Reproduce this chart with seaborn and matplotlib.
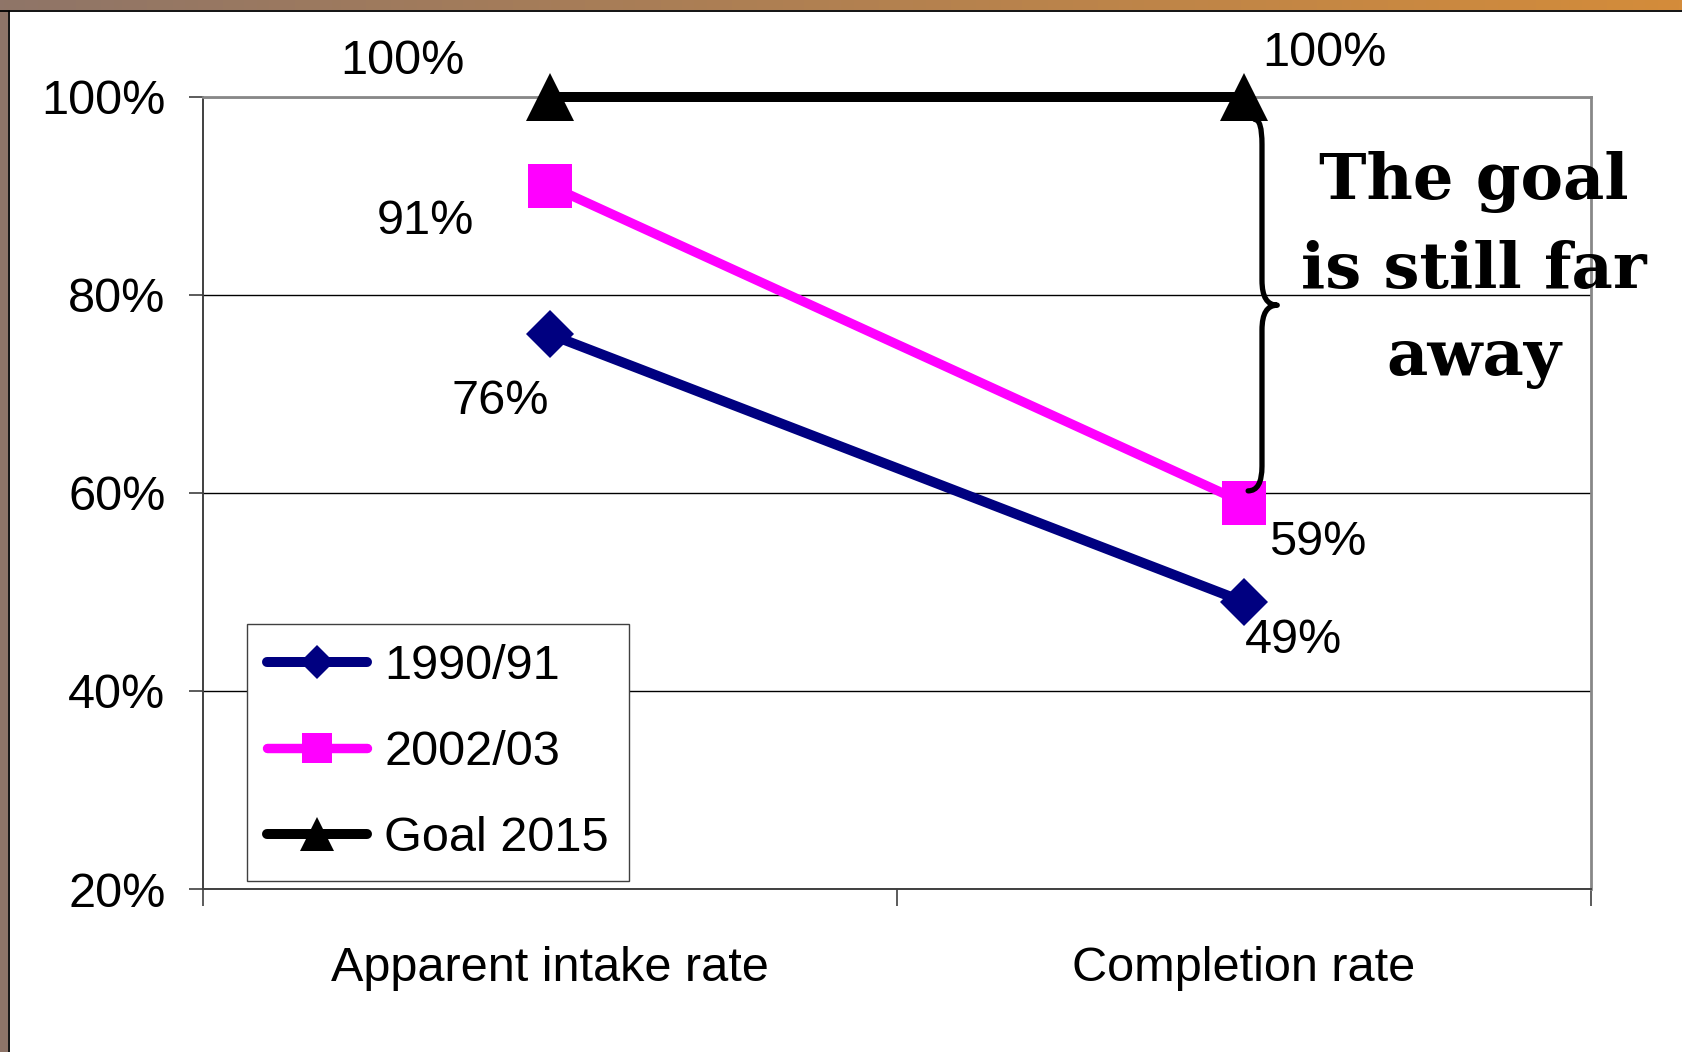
import numpy as np
import pandas as pd
import matplotlib
matplotlib.use("Agg")
import matplotlib.pyplot as plt
from matplotlib.path import Path
from matplotlib.patches import PathPatch, Rectangle
from matplotlib.lines import Line2D
import seaborn as sns

# ---- data ---------------------------------------------------------------
categories = ["Apparent intake rate", "Completion rate"]
series_names = ["1990/91", "2002/03", "Goal 2015"]
values_1990 = [76, 49]
values_2002 = [91, 59]
values_goal = [100, 100]
y_ticks = [20, 40, 60, 80, 100]
note_lines = ["The goal", "is still far", "away"]

# ---- style --------------------------------------------------------------
sns.set_style("white")
plt.rcParams["font.family"] = ["Liberation Sans", "DejaVu Sans"]
for key in ["text.color", "axes.labelcolor", "xtick.color", "ytick.color"]:
    plt.rcParams[key] = "black"

FS = 35
fig = plt.figure(figsize=(16.83, 10.52), dpi=100)
fig.patch.set_facecolor("white")
ax = fig.add_axes([0.1206, 0.1549, 0.8247, 0.7532])

pos = list(range(len(categories)))
df = pd.DataFrame({
    "pos": pos * 3,
    "value": values_1990 + values_2002 + values_goal,
    "series": [s for s in series_names for _ in pos],
})

styles = {
    "1990/91": dict(color="#000080", marker="D", markersize=24.5, linewidth=7.2, zorder=3),
    "2002/03": dict(color="#FF00FF", marker="s", markersize=31, linewidth=6.8, zorder=3),
    "Goal 2015": dict(color="#000000", marker="^", markersize=34, linewidth=7.2, zorder=4),
}

for name in series_names:
    st = styles[name]
    sub = df[df["series"] == name]
    sns.lineplot(data=sub, x="pos", y="value", ax=ax, color=st["color"],
                 marker=st["marker"], markersize=st["markersize"],
                 markeredgecolor=st["color"], markeredgewidth=0,
                 linewidth=st["linewidth"], solid_capstyle="round",
                 label=name, zorder=st["zorder"], clip_on=False)

# ---- value labels ---------------------------------------------------------
label_offsets = {
    "1990/91": [(-36, -48), (35.5, -28)],
    "2002/03": [(-89.5, -26), (53, -28.5)],
    "Goal 2015": [(-106.5, 25.5), (58, 31)],
}
series_values = {"1990/91": values_1990, "2002/03": values_2002, "Goal 2015": values_goal}
for name in series_names:
    for i, v in enumerate(series_values[name]):
        ax.annotate(f"{v}%", xy=(pos[i], v), xytext=label_offsets[name][i],
                    textcoords="offset points", ha="center", va="center",
                    fontsize=FS, color="black", annotation_clip=False, zorder=6)

# ---- axes ---------------------------------------------------------------
ax.set_xlim(-0.5, 1.5)
ax.set_ylim(20, 100)
ax.set_xticks(pos)
ax.set_xticklabels(categories)
ax.set_xticks([-0.5, 0.5, 1.5], minor=True)
ax.set_yticks(y_ticks)
ax.set_yticklabels([f"{t}%" for t in y_ticks])
ax.set_xlabel("")
ax.set_ylabel("")
ax.tick_params(axis="x", which="major", bottom=True, length=0, pad=41, labelsize=FS)
ax.tick_params(axis="x", which="minor", bottom=True, length=12, width=1.2,
               color="#404040", direction="out")
ax.tick_params(axis="y", which="major", left=True, length=10, width=1.2,
               color="#404040", pad=17, labelsize=FS, direction="out")

ax.set_axisbelow(True)
ax.yaxis.grid(True, color="black", linewidth=1.0)
ax.xaxis.grid(False)

for side in ["top", "right"]:
    ax.spines[side].set_color("#888888")
    ax.spines[side].set_linewidth(2.0)
for side in ["left", "bottom"]:
    ax.spines[side].set_color("#404040")
    ax.spines[side].set_linewidth(1.4)

# ---- legend -------------------------------------------------------------
leg = ax.legend(loc="lower left", bbox_to_anchor=(0.0317, 0.0101), borderaxespad=0,
                fontsize=FS, frameon=True, fancybox=False, framealpha=1,
                edgecolor="#404040", markerscale=0.7, handlelength=2.05,
                handletextpad=0.35, borderpad=0.42, labelspacing=0.84)
leg.get_frame().set_linewidth(1.0)
leg.set_zorder(5)

# ---- brace and note -----------------------------------------------------
yt = values_goal[1] - 2.3
yb = values_2002[1] + 1.2
ym = (yt + yb) / 2
r = 2.5
xs, xt, xe_top, xe_bot = 1.026, 1.048, 1.0155, 1.006
verts = [(xe_top, yt), (xs, yt), (xs, yt - r),
         (xs, ym + r),
         (xs, ym), (xt, ym),
         (xs, ym), (xs, ym - r),
         (xs, yb + r),
         (xs, yb), (xe_bot, yb)]
codes = [Path.MOVETO, Path.CURVE3, Path.CURVE3,
         Path.LINETO,
         Path.CURVE3, Path.CURVE3,
         Path.CURVE3, Path.CURVE3,
         Path.LINETO,
         Path.CURVE3, Path.CURVE3]
brace = PathPatch(Path(verts, codes), facecolor="none", edgecolor="black",
                  linewidth=3.8, capstyle="round", joinstyle="round",
                  zorder=7, clip_on=False)
ax.add_patch(brace)

ax.text(1.3315, 82.5, "\n".join(note_lines), ha="center", va="center",
        fontsize=46, fontweight="bold", family="DejaVu Serif", color="black",
        linespacing=1.55, zorder=8, clip_on=False)

# ---- slide frame ----------------------------------------------------------
W, H = 1683, 1052
band = fig.add_axes([0, 1 - 10 / H, 1, 10 / H])
c0 = np.array([143, 117, 104]) / 255
c1 = np.array([212, 140, 58]) / 255
t = np.linspace(0, 1, 400)[None, :, None]
band.imshow(c0 + (c1 - c0) * t, aspect="auto", extent=(0, 1, 0, 1))
band.set_axis_off()
fig.add_artist(Rectangle((0, 0), 8 / W, 1 - 10 / H, transform=fig.transFigure,
                         facecolor="#8e7468", edgecolor="none"))
fig.add_artist(Line2D([0, 1], [1 - 10.8 / H] * 2, transform=fig.transFigure,
                      color="black", linewidth=1.3))
fig.add_artist(Line2D([8.7 / W] * 2, [0, 1 - 10.8 / H], transform=fig.transFigure,
                      color="black", linewidth=1.3))

fig.savefig("out.png", dpi=100)
